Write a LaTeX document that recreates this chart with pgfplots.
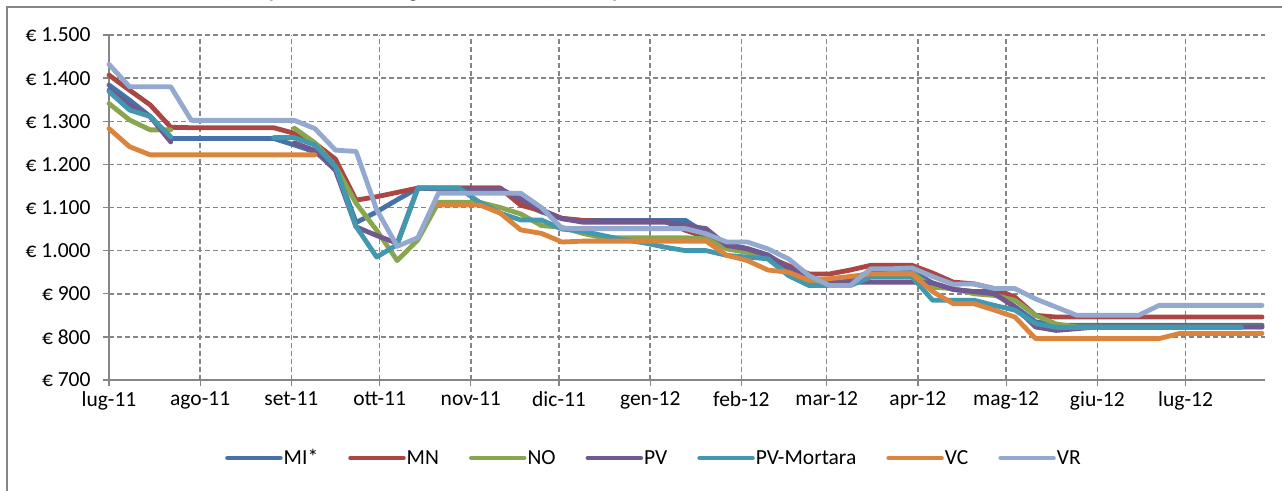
\documentclass[border=0pt]{standalone}
\usepackage{fontspec}
\setmainfont{Carlito}
\usepackage{pgfplots}
\usepackage{pgfplotstable}
\pgfplotsset{compat=1.18}
\definecolor{cMI}{HTML}{4572A7}
\definecolor{cMN}{HTML}{AA4643}
\definecolor{cNO}{HTML}{89A54E}
\definecolor{cPV}{HTML}{71588F}
\definecolor{cPVM}{HTML}{4198AF}
\definecolor{cVC}{HTML}{DB843D}
\definecolor{cVR}{HTML}{93A9CF}
\definecolor{axgray}{HTML}{868686}
\definecolor{gridgray}{HTML}{858585}

\pgfplotstableread{
d MI MN NO PV PVM VC VR
0 1384 1407 1341 1372 1369 1283 1432
7 1349 1372 1303 1338 1326 1241 1380
14 1311 1338 1280 1311 1311 1222 1380
21 1260 1286 1280 1252 1264 1222 1380
28 1260 1285 nan nan nan 1222 1302
35 1260 1285 nan nan nan 1222 1302
42 1260 1285 nan nan nan 1222 1302
49 1260 1285 nan nan nan 1222 1302
56 1260 1285 nan nan 1262 1222 1302
63 1245 1272 1284 1250 1262 1222 1302
70 1229 1249 1250 1232 1245 1222 1283
77 1195 1212 1195 1186 1195 nan 1233
84 1065 1117 1110 1055 1056 nan 1230
91 1090 1125 1047 1035 985 nan 1095
98 1118 1135 977 1017 1014 nan 1010
105 1145 1145 1025 1145 1145 nan 1030
112 1145 1145 1112 1143 1145 1106 1133
119 1145 1145 1112 1143 1145 1106 1133
126 1145 1145 1112 1143 1112 1106 1133
133 1145 1145 1100 1143 1087 1087 1133
140 1110 1105 1085 1120 1071 1048 1133
147 1090 1093 1058 1095 1071 1040 1100
154 1074 1075 1054 1074 1050 1020 1052
161 1070 1070 1040 1066 1045 1022 1051
168 1070 1068 1030 1066 1035 1022 1051
175 1070 1068 1030 1066 1025 1022 1051
182 1070 1068 1030 1066 1018 1022 1051
189 1070 1068 1030 1066 1008 1022 1051
196 1070 1047 1030 1058 1000 1022 1051
203 1040 1031 1027 1051 1000 1022 1039
210 1015 1012 1004 1012 989 989 1020
217 1005 1004 996 1004 985 977 1020
224 990 985 985 989 981 955 1004
231 960 965 958 960 942 950 981
238 935 946 927 938 919 931 942
245 930 946 925 927 919 935 919
252 935 955 925 927 919 940 919
259 950 966 940 927 939 946 958
266 952 966 948 927 939 946 958
273 952 966 948 927 939 946 960
280 925 948 915 925 885 905 940
287 910 927 912 910 885 877 922
294 905 923 900 905 885 877 923
301 905 912 896 900 873 862 912
308 870 892 885 869 862 846 912
315 835 850 850 823 831 796 888
322 827 846 830 815 822 796 869
329 827 846 823 819 822 796 850
336 827 846 823 823 822 796 850
343 827 846 823 823 822 796 850
350 827 846 823 823 822 796 850
357 827 846 823 823 822 796 873
364 827 846 823 823 822 808 873
371 827 846 823 823 822 808 873
378 827 846 823 823 822 808 873
385 827 846 823 823 822 808 873
392 827 846 823 823 nan 808 873
}\data

\begin{document}
\begin{tikzpicture}[x=1pt,y=1pt]
\draw[color=axgray, line width=1.2pt] (7,-5) -- (7,483) -- (1290,483);
\node[anchor=base west, font=\bfseries\fontsize{21}{25}\selectfont, inner sep=0pt] at (5,492.2) {Grafico 5 – Prezzo medio (€/t) per il risone Lungo B da interno (franco partenza)};
\begin{axis}[
  at={(109pt,110pt)}, anchor=south west,
  scale only axis, width=1156pt, height=345pt,
  xmin=0, xmax=393, ymin=700, ymax=1500,
  axis x line=bottom, axis y line=left,
  axis line style={-, color=axgray, line width=1.5pt},
  xtick={0,31,62,92,123,153,184,215,244,275,305,336,366},
  xticklabels={lug-11,ago-11,set-11,ott-11,nov-11,dic-11,gen-12,feb-12,mar-12,apr-12,mag-12,giu-12,lug-12},
  ytick={700,800,900,1000,1100,1200,1300,1400,1500},
  yticklabels={€ 700,€ 800,€ 900,€ 1.000,€ 1.100,€ 1.200,€ 1.300,€ 1.400,€ 1.500},
  tick align=outside, major tick length=6pt,
  tick style={color=axgray, line width=1.3pt},
  xmajorgrids, ymajorgrids,
  major grid style={color=gridgray, line width=1.5pt, dash pattern=on 5pt off 3pt},
  every tick label/.append style={font=\fontsize{21.5}{25}\selectfont, text=black},
  yticklabel style={xshift=-9pt},
  xticklabel style={yshift=-2pt},
  unbounded coords=jump,
  clip=false,
  legend columns=7,
  legend style={at={(0.471,-0.226)}, anchor=center, draw=none, fill=none,
    font=\fontsize{21.5}{25}\selectfont,
    nodes={inner xsep=1pt, inner ysep=1pt},
    /tikz/every even column/.append style={column sep=29pt}},
  legend image code/.code={\draw[#1, line width=4.5pt, line cap=round] (2pt,0pt) -- (55pt,0pt);},
  every axis plot/.append style={line width=4.8pt, line join=round, line cap=round, no marks},
]
\addplot[color=cMI] table[x=d,y=MI]{\data}; \addlegendentry{MI*}
\addplot[color=cMN] table[x=d,y=MN]{\data}; \addlegendentry{MN}
\addplot[color=cNO] table[x=d,y=NO]{\data}; \addlegendentry{NO}
\addplot[color=cPV] table[x=d,y=PV]{\data}; \addlegendentry{PV}
\addplot[color=cPVM] table[x=d,y=PVM]{\data}; \addlegendentry{PV-Mortara}
\addplot[color=cVC] table[x=d,y=VC]{\data}; \addlegendentry{VC}
\addplot[color=cVR] table[x=d,y=VR]{\data}; \addlegendentry{VR}
\end{axis}
\pgfresetboundingbox
\path[use as bounding box] (0pt,0pt) rectangle (1282pt,490pt);
\end{tikzpicture}
\end{document}
